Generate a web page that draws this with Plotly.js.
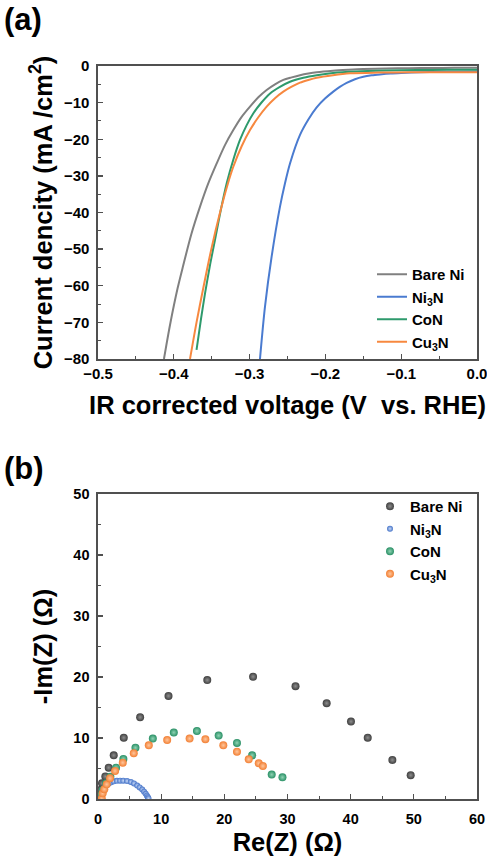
<!DOCTYPE html>
<html>
<head>
<meta charset="utf-8">
<script src="https://cdn.plot.ly/plotly-3.0.1.min.js"></script>
<style>html,body{margin:0;padding:0;background:#fff;}#chart{width:487px;height:859px;}</style>
</head>
<body>
<div id="chart"></div>
<script>
// ---- Panel (a): polarization curves (V vs. RHE, mA/cm2) ----
const bareNiV = [-0.413,-0.405,-0.395,-0.388,-0.3767,-0.3654,-0.3544,-0.3434,-0.3325,-0.3215,-0.3105,-0.2995,-0.2885,-0.2775,-0.2665,-0.2555,-0.2445,-0.2335,-0.2225,-0.2115,-0.19,-0.17,-0.15,-0.12,-0.09,-0.06,-0.03,0];
const bareNiJ = [-80,-70.7,-60.7,-54.8,-45.8,-38.4,-32.0,-26.6,-21.6,-17.5,-13.9,-11.1,-8.55,-6.55,-5.0,-3.8,-3.1,-2.5,-2.05,-1.7,-1.3,-1.05,-0.85,-0.7,-0.6,-0.55,-0.5,-0.5];
const ni3nV = [-0.2863,-0.2797,-0.2709,-0.2599,-0.2533,-0.2467,-0.2335,-0.2225,-0.2115,-0.2005,-0.1896,-0.181,-0.172,-0.161,-0.150,-0.139,-0.128,-0.114,-0.10,-0.075,-0.05,-0.025,0];
const ni3nJ = [-80,-65.7,-52,-38.4,-32,-26.6,-18.8,-14.6,-11.3,-8.9,-7.0,-5.7,-4.6,-3.6,-2.95,-2.55,-2.3,-2.05,-1.9,-1.7,-1.6,-1.55,-1.5];
const conV = [-0.370,-0.364,-0.3588,-0.352,-0.3457,-0.338,-0.3302,-0.3215,-0.3127,-0.304,-0.295,-0.284,-0.273,-0.26,-0.2467,-0.229,-0.2115,-0.19,-0.16,-0.12,-0.08,-0.04,0];
const conJ = [-77.5,-68.9,-62.1,-54.1,-47.5,-39.3,-32,-25.6,-20.2,-16.2,-12.9,-9.9,-7.5,-5.7,-4.3,-3.2,-2.5,-1.9,-1.5,-1.25,-1.12,-1.05,-1.0];
const cu3nV = [-0.3786,-0.370,-0.3605,-0.3505,-0.339,-0.3285,-0.3215,-0.3105,-0.2995,-0.2885,-0.2775,-0.2665,-0.2555,-0.2445,-0.2335,-0.2225,-0.2115,-0.19,-0.1675,-0.13,-0.09,-0.05,0];
const cu3nJ = [-80,-70,-60,-50,-40,-32,-27.5,-21.9,-17.5,-14,-11.1,-8.8,-7.0,-5.65,-4.55,-3.8,-3.2,-2.5,-2.0,-1.8,-1.72,-1.7,-1.7];

// ---- Panel (b): Nyquist plots (Ohm) ----
const bareNiRe = [0.42,0.63,1.16,1.69,2.49,4.08,6.67,11.16,17.3,24.55,31.27,36.2,40.05,42.7,46.6,49.5];
const bareNiIm = [1.5,2.57,3.7,5.14,7.16,10.05,13.4,16.9,19.5,20.05,18.5,15.7,12.7,10.05,6.4,3.9];
const ni3nRe = [0.3,0.4,0.5,0.7,0.9,1.1,1.4,1.7,2.1,2.5,3.0,3.5,4.0,4.6,5.2,5.7,6.2,6.6,7.0,7.3,7.55,7.75,7.9,8.0];
const ni3nIm = [0,0.4,0.8,1.2,1.6,1.95,2.3,2.55,2.75,2.9,2.98,3.0,3.0,2.95,2.8,2.55,2.2,1.9,1.55,1.2,0.85,0.55,0.3,0.1];
const conRe = [0.48,0.74,1.27,1.96,2.86,4.02,5.93,8.68,12.0,15.66,19.1,22.0,24.4,27.5,29.2];
const conIm = [0.66,1.48,2.57,3.66,5.14,6.56,8.4,9.9,10.9,11.15,10.4,9.2,7.16,4.0,3.55];
const cu3nRe = [0.6,0.74,1.0,1.38,1.9,2.7,3.92,5.66,8.04,10.95,14.5,17.0,19.84,22.0,23.86,25.45,26.1];
const cu3nIm = [0.1,0.93,1.6,2.4,3.4,4.6,5.95,7.5,8.8,9.67,9.9,9.8,8.8,7.76,6.5,5.85,5.4];

const seriesNames = ['Bare Ni','Ni<sub>3</sub>N','CoN','Cu<sub>3</sub>N'];
const lineColors = ['#808080','#4a7bd0','#2e9a6c','#f7883f'];
const markerColors = ['#3f3f3f','#4573c8','#2a9066','#f27f33'];
const markerLight = ['#8e8e8e','#c9daf7','#8fd3b3','#ffc69c'];

const aV = [bareNiV, ni3nV, conV, cu3nV];
const aJ = [bareNiJ, ni3nJ, conJ, cu3nJ];
const bRe = [bareNiRe, ni3nRe, conRe, cu3nRe];
const bIm = [bareNiIm, ni3nIm, conIm, cu3nIm];

const traces = [];
for (let i = 0; i < 4; i++) {
  traces.push({
    type: 'scatter', mode: 'lines', x: aV[i], y: aJ[i], name: seriesNames[i],
    line: {color: lineColors[i], width: 2, shape: 'spline', smoothing: 0.8},
    xaxis: 'x', yaxis: 'y', legend: 'legend'
  });
}
for (let i = 0; i < 4; i++) {
  traces.push({
    type: 'scatter', mode: 'markers', x: bRe[i], y: bIm[i], name: seriesNames[i],
    marker: {color: markerColors[i], size: i === 1 ? 6 : 8, line: {width: 0},
             gradient: {type: 'radial', color: markerLight[i]}},
    xaxis: 'x2', yaxis: 'y2', legend: 'legend2'
  });
}

const H = 859;
const FAM = 'Liberation Sans, Arial, sans-serif';
const tickFont = {family: FAM, size: 15, color: '#000', weight: 'bold'};
const tickFont2 = {family: FAM, size: 14.5, color: '#000', weight: 'bold'};
const titleFont = {family: FAM, size: 25.5, color: '#000', weight: 'bold'};
const legendFont = {family: FAM, size: 15, color: '#000', weight: 'bold'};
const axisCommon = {
  showline: true, mirror: true, linecolor: '#505050', linewidth: 1.6,
  ticks: 'inside', ticklen: 5, tickwidth: 1.3, tickcolor: '#505050',
  showgrid: false, zeroline: false, fixedrange: true, ticklabeloverflow: 'allow'
};
const minorOf = d => ({ticks: 'inside', ticklen: 3, dtick: d, tickcolor: '#505050', tickwidth: 1.1});

const layout = {
  width: 487, height: 859,
  margin: {l: 98, r: 10, t: 0, b: 0},
  paper_bgcolor: '#fff', plot_bgcolor: '#fff',
  showlegend: true,
  xaxis: Object.assign({}, axisCommon, {
    domain: [0, 1], anchor: 'y', range: [-0.5, 0], dtick: 0.1, tick0: 0,
    tickformat: '.1f', tickfont: tickFont, minor: minorOf(0.05),
    title: {text: 'IR corrected voltage (V\u00a0 vs. RHE)', font: titleFont, standoff: 15}
  }),
  yaxis: Object.assign({}, axisCommon, {
    domain: [1 - 359 / H, 1 - 66 / H], anchor: 'x', range: [-80, 0], dtick: 10,
    ticklabelstandoff: 4, tickfont: tickFont, minor: minorOf(5),
    title: {text: 'Current dencity (mA /cm<sup>2</sup>)', font: titleFont, standoff: 4}
  }),
  xaxis2: Object.assign({}, axisCommon, {
    domain: [0, 1], anchor: 'y2', range: [0, 60], dtick: 10,
    ticklabelstandoff: 6, tickfont: tickFont2, minor: minorOf(5),
    title: {text: 'Re(Z) (Ω)', font: titleFont, standoff: 7}
  }),
  yaxis2: Object.assign({}, axisCommon, {
    domain: [1 - 799 / H, 1 - 494 / H], anchor: 'x2', range: [0, 50], dtick: 10,
    ticklabelstandoff: 4, tickfont: tickFont2, minor: minorOf(5),
    title: {text: '-Im(Z) (Ω)', font: titleFont, standoff: 13}
  }),
  legend: {
    x: (372 - 98) / 379, xanchor: 'left', y: 1 - 258 / H, yanchor: 'top',
    bgcolor: 'rgba(0,0,0,0)', borderwidth: 0, font: legendFont
  },
  legend2: {
    x: (370 - 98) / 379, xanchor: 'left', y: 1 - 490 / H, yanchor: 'top',
    bgcolor: 'rgba(0,0,0,0)', borderwidth: 0, font: legendFont
  },
  annotations: [
    {text: '(a)', xref: 'paper', yref: 'paper', x: -96 / 379, y: 1 - 0 / H, xanchor: 'left', yanchor: 'top',
     showarrow: false, font: {family: FAM, size: 31, color: '#000', weight: 'bold'}},
    {text: '(b)', xref: 'paper', yref: 'paper', x: -96 / 379, y: 1 - 449 / H, xanchor: 'left', yanchor: 'top',
     showarrow: false, font: {family: FAM, size: 31, color: '#000', weight: 'bold'}}
  ]
};

Plotly.newPlot('chart', traces, layout, {displayModeBar: false, staticPlot: true});
</script>
</body>
</html>
